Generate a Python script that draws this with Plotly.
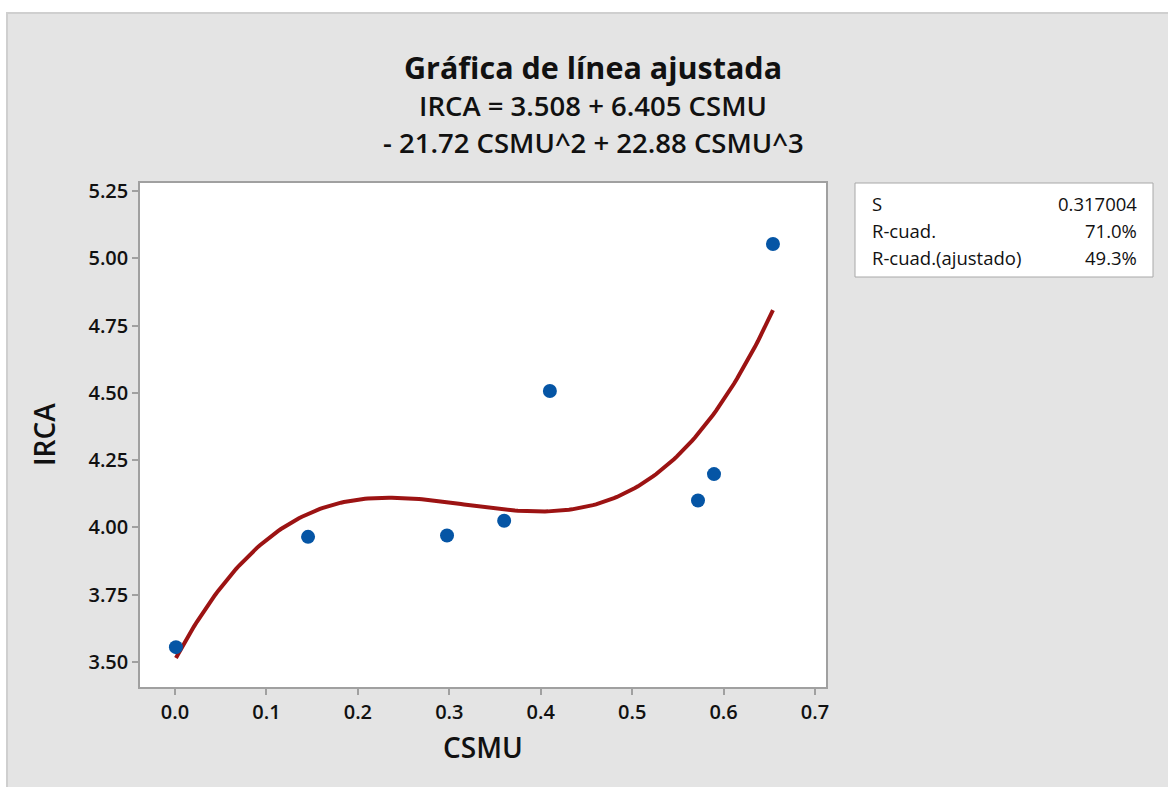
import numpy as np
import plotly.graph_objects as go

# Data
csmu = [0.001, 0.1455, 0.2975, 0.360, 0.410, 0.572, 0.5895, 0.654]
irca = [3.555, 3.965, 3.970, 4.025, 4.507, 4.100, 4.198, 5.053]
coefs = [3.508, 6.405, -21.72, 22.88]  # fitted cubic model from the title
x_ticks = [0.0, 0.1, 0.2, 0.3, 0.4, 0.5, 0.6, 0.7]
y_ticks = [3.50, 3.75, 4.00, 4.25, 4.50, 4.75, 5.00, 5.25]
stat_labels = ["S", "R-cuad.", "R-cuad.(ajustado)"]
stat_values = ["0.317004", "71.0%", "49.3%"]

xf = np.linspace(min(csmu), max(csmu), 200)
yf = coefs[0] + coefs[1] * xf + coefs[2] * xf**2 + coefs[3] * xf**3

FONT = "Open Sans"
W, H = 1168, 787
L, R, T, B = 140, 342, 183, 100
PW, PH = W - L - R, H - T - B

def px_x(p):
    return (p - L) / PW

def px_y(p):
    return (H - B - p) / PH

fig = go.Figure()
fig.add_trace(go.Scatter(x=xf, y=yf, mode="lines",
                         line=dict(color="#9c1313", width=4),
                         hoverinfo="skip", showlegend=False))
fig.add_trace(go.Scatter(x=csmu, y=irca, mode="markers",
                         marker=dict(color="#0555a5", size=14),
                         showlegend=False))

shapes = [
    dict(type="rect", xref="paper", yref="paper", layer="below",
         x0=px_x(7), x1=px_x(W + 5), y0=px_y(H + 5), y1=px_y(13),
         fillcolor="#e4e4e4", line=dict(color="#cfcfcf", width=2)),
    dict(type="rect", xref="paper", yref="paper", layer="below",
         x0=0, x1=1, y0=0, y1=1, fillcolor="white", line=dict(width=0)),
    dict(type="rect", xref="paper", yref="paper",
         x0=px_x(855), x1=px_x(1153), y0=px_y(277), y1=px_y(183),
         fillcolor="white", line=dict(color="#a8a8a8", width=1)),
]

annotations = [
    dict(text="Gráfica de línea ajustada", x=px_x(593), y=px_y(67),
         font=dict(family=FONT, size=30.5, color="#111", weight=700)),
    dict(text="IRCA = 3.508 + 6.405 CSMU", x=px_x(593), y=px_y(105),
         font=dict(family=FONT, size=27.5, color="#111", weight=600)),
    dict(text="- 21.72 CSMU^2 + 22.88 CSMU^3", x=px_x(593), y=px_y(142),
         font=dict(family=FONT, size=27.5, color="#111", weight=600)),
    dict(text="CSMU", x=px_x(483), y=px_y(747),
         font=dict(family=FONT, size=28, color="#111", weight=600)),
    dict(text="IRCA", x=px_x(44), y=px_y(435), textangle=-90,
         font=dict(family=FONT, size=28, color="#111", weight=600)),
]
for a in annotations:
    a.update(xref="paper", yref="paper", showarrow=False,
             xanchor="center", yanchor="middle")

row_y = [203, 230, 257]
for lab, val, ry in zip(stat_labels, stat_values, row_y):
    annotations.append(dict(text=lab, x=px_x(870), y=px_y(ry), xref="paper",
                            yref="paper", showarrow=False, xanchor="left",
                            yanchor="middle",
                            font=dict(family=FONT, size=18.5, color="#111")))
    annotations.append(dict(text=val, x=px_x(1139), y=px_y(ry), xref="paper",
                            yref="paper", showarrow=False, xanchor="right",
                            yanchor="middle",
                            font=dict(family=FONT, size=18.5, color="#111")))

axis_common = dict(showgrid=False, zeroline=False, showline=True, mirror=True,
                   linecolor="#a0a0a0", linewidth=1.5, ticks="outside",
                   ticklen=6, tickcolor="#a0a0a0", tickwidth=1.5,
                   tickfont=dict(family=FONT, size=20, color="#111", weight=600))

fig.update_layout(
    width=W, height=H,
    margin=dict(l=L, r=R, t=T, b=B),
    paper_bgcolor="white", plot_bgcolor="rgba(0,0,0,0)",
    shapes=shapes, annotations=annotations,
    xaxis=dict(range=[-0.0383, 0.712], tickvals=x_ticks,
               ticktext=[f"{v:.1f}" for v in x_ticks], **axis_common),
    yaxis=dict(range=[3.407, 5.2797], tickvals=y_ticks,
               ticktext=[f"{v:.2f}" for v in y_ticks], **axis_common),
)

fig.write_html("out.html")
